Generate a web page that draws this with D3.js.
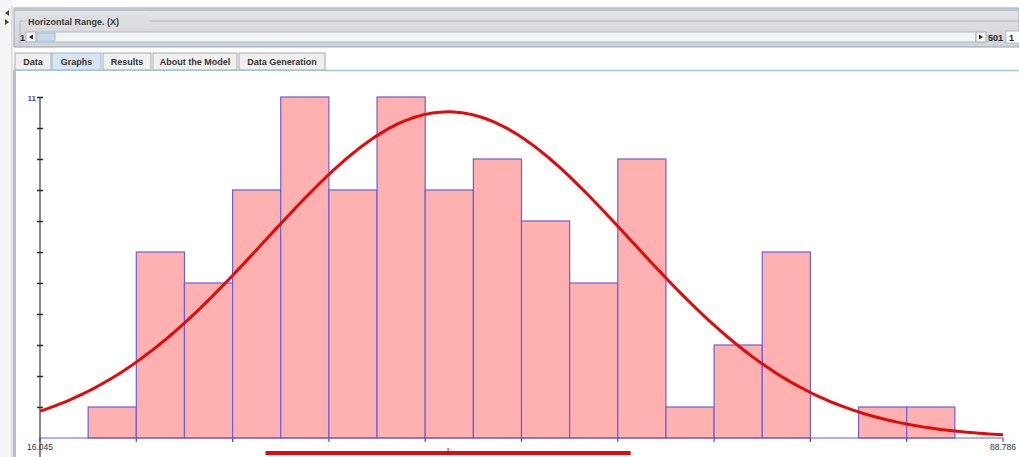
<!DOCTYPE html>
<html>
<head>
<meta charset="utf-8">
<script src="https://cdn.jsdelivr.net/npm/d3@7"></script>
<style>
  body { margin: 0; background: #fff; }
  svg { display: block; font-family: "Liberation Sans", Arial, sans-serif; }
</style>
</head>
<body>
<div id="chart"></div>
<script>
// histogram counts per bin (20 equal bins between xMin and xMax)
const counts = [0, 1, 6, 5, 8, 11, 8, 11, 8, 9, 7, 5, 9, 1, 3, 6, 0, 1, 1, 0];
const xMin = 16.045;
const xMax = 88.786;
const yMax = 11;
const n = 100;
const mean = 46.87;
const sd = 13.79;
const tabs = ["Data", "Graphs", "Results", "About the Model", "Data Generation"];
const selectedTab = "Graphs";
const rangeLabels = ["1", "501", "1"];

const W = 1019, H = 457;
const svg = d3.select("#chart").append("svg")
    .attr("width", W)
    .attr("height", H);

// ---- window chrome ----
const chrome = svg.append("g");

// left split strip
chrome.append("rect").attr("x", 0).attr("y", 0).attr("width", 12).attr("height", H).attr("fill", "#f4f5f7");
chrome.append("line").attr("x1", 12).attr("x2", 12).attr("y1", 6).attr("y2", H).attr("stroke", "#c4c8ce");
chrome.append("path").attr("d", "M9,10 L5,13 L9,16 Z").attr("fill", "#444");
chrome.append("path").attr("d", "M5,19 L9,22 L5,25 Z").attr("fill", "#444");

// top "Horizontal Range" panel
const grad = svg.append("defs").append("linearGradient")
    .attr("id", "panelGrad").attr("x1", 0).attr("x2", 0).attr("y1", 0).attr("y2", 1);
grad.append("stop").attr("offset", "0%").attr("stop-color", "#e4e6e9");
grad.append("stop").attr("offset", "100%").attr("stop-color", "#cfd2d6");

chrome.append("rect").attr("x", 14).attr("y", 8).attr("width", W - 14).attr("height", 39)
    .attr("fill", "url(#panelGrad)").attr("stroke", "#9ea6b0");
chrome.append("line").attr("x1", 14).attr("x2", W).attr("y1", 10).attr("y2", 10).attr("stroke", "#b9c3cf").attr("stroke-width", 2);
chrome.append("line").attr("x1", 20).attr("x2", W).attr("y1", 21).attr("y2", 21).attr("stroke", "#b0b4ba");
chrome.append("line").attr("x1", 20).attr("x2", 20).attr("y1", 21).attr("y2", 44).attr("stroke", "#b0b4ba");
chrome.append("rect").attr("x", 25).attr("y", 15).attr("width", 124).attr("height", 12).attr("fill", "#dcdee1");
chrome.append("text").attr("x", 28).attr("y", 25)
    .attr("font-size", 9).attr("font-weight", "bold").attr("fill", "#3a3a3a")
    .text("Horizontal Range. (X)");

// scrollbar row
chrome.append("text").attr("x", 20).attr("y", 40.5).attr("font-size", 9).attr("font-weight", "bold").attr("fill", "#222").text(rangeLabels[0]);
chrome.append("rect").attr("x", 26).attr("y", 32).attr("width", 10).attr("height", 10).attr("fill", "#f6f6f6").attr("stroke", "#a8aeb6");
chrome.append("path").attr("d", "M33,34.5 L29,37 L33,39.5 Z").attr("fill", "#222");
chrome.append("rect").attr("x", 36).attr("y", 32).attr("width", 940).attr("height", 10).attr("fill", "#f2f3f5").attr("stroke", "#b4bac2");
chrome.append("rect").attr("x", 37).attr("y", 33).attr("width", 18).attr("height", 8).attr("fill", "#c9d9ec").attr("stroke", "#a9bcd4");
chrome.append("rect").attr("x", 976).attr("y", 32).attr("width", 10).attr("height", 10).attr("fill", "#f6f6f6").attr("stroke", "#a8aeb6");
chrome.append("path").attr("d", "M979,34.5 L983,37 L979,39.5 Z").attr("fill", "#222");
chrome.append("text").attr("x", 988).attr("y", 40.5).attr("font-size", 9).attr("font-weight", "bold").attr("fill", "#222").text(rangeLabels[1]);
chrome.append("rect").attr("x", 1006).attr("y", 31).attr("width", 14).attr("height", 12).attr("fill", "#fff").attr("stroke", "#b4bac2");
chrome.append("text").attr("x", 1009).attr("y", 40.5).attr("font-size", 9).attr("font-weight", "bold").attr("fill", "#222").text(rangeLabels[2]);

// tabs
const tabX = [15, 52, 103, 153, 239];
const tabW = [36, 49, 48, 84, 86];
const tabG = chrome.append("g");
tabs.forEach((t, i) => {
    const sel = t === selectedTab;
    tabG.append("rect")
        .attr("x", tabX[i]).attr("y", 53).attr("width", tabW[i]).attr("height", 17)
        .attr("fill", sel ? "#d5e5f5" : "#f0f0f0")
        .attr("stroke", sel ? "#9fb4cc" : "#a7a9ac");
    tabG.append("text")
        .attr("x", tabX[i] + tabW[i] / 2).attr("y", 65)
        .attr("text-anchor", "middle")
        .attr("font-size", 9).attr("font-weight", "bold").attr("fill", "#333")
        .text(t);
});
chrome.append("line").attr("x1", 325).attr("x2", W).attr("y1", 70.5).attr("y2", 70.5).attr("stroke", "#a9c0da").attr("stroke-width", 1.5);
chrome.append("line").attr("x1", 14).attr("x2", 325).attr("y1", 70.5).attr("y2", 70.5).attr("stroke", "#a9c0da");
chrome.append("rect").attr("x", 13).attr("y", 70).attr("width", 3).attr("height", H - 70).attr("fill", "#b9bec5");

// ---- chart ----
const x = d3.scaleLinear().domain([xMin, xMax]).range([40, 1003]);
const y = d3.scaleLinear().domain([0, yMax]).range([438, 97]);
const binW = (xMax - xMin) / counts.length;

const bins = counts.map((c, i) => ({ x0: xMin + i * binW, x1: xMin + (i + 1) * binW, c: c }));

// bars
svg.append("g")
    .selectAll("rect")
    .data(bins.filter(d => d.c > 0))
    .join("rect")
    .attr("x", d => x(d.x0))
    .attr("y", d => y(d.c))
    .attr("width", d => x(d.x1) - x(d.x0))
    .attr("height", d => y(0) - y(d.c))
    .attr("fill", "#ffb1b1")
    .attr("stroke", "#6b5fd6")
    .attr("stroke-width", 1.2);

// x baseline with ticks every other bin edge
svg.append("line")
    .attr("x1", x(xMin)).attr("x2", x(xMax))
    .attr("y1", y(0)).attr("y2", y(0))
    .attr("stroke", "#6b5fd6").attr("stroke-width", 1.2);
const edgeTicks = d3.range(0, counts.length + 1, 2).map(i => xMin + i * binW);
svg.append("g")
    .selectAll("line")
    .data(edgeTicks)
    .join("line")
    .attr("x1", d => x(d)).attr("x2", d => x(d))
    .attr("y1", y(0)).attr("y2", y(0) + 4)
    .attr("stroke", "#5548b8").attr("stroke-width", 1.2);

// y axis
const yAxis = d3.axisLeft(y)
    .tickValues(d3.range(1, yMax + 1))
    .tickSize(0)
    .tickFormat("");
const yg = svg.append("g").attr("transform", `translate(${x(xMin)},0)`).call(yAxis);
yg.select(".domain").remove();
yg.append("line")
    .attr("x1", 0).attr("x2", 0).attr("y1", y(yMax)).attr("y2", H)
    .attr("stroke", "#3a3a3a").attr("stroke-width", 1.2);
yg.selectAll(".tick").append("line")
    .attr("x1", -3).attr("x2", 3)
    .attr("stroke", "#222").attr("stroke-width", 1.5);
yg.append("text")
    .attr("x", -4).attr("y", y(yMax) + 4)
    .attr("text-anchor", "end")
    .attr("font-size", 8).attr("font-weight", "bold").attr("fill", "#4848d8")
    .text(yMax);

// end labels
svg.append("text").attr("x", x(xMin)).attr("y", 450)
    .attr("text-anchor", "middle").attr("font-size", 8.5).attr("fill", "#333")
    .text(xMin.toFixed(3));
svg.append("text").attr("x", x(xMax)).attr("y", 450)
    .attr("text-anchor", "middle").attr("font-size", 8.5).attr("fill", "#333")
    .text(xMax.toFixed(3));

// fitted normal curve
const pdf = v => n * binW / (sd * Math.sqrt(2 * Math.PI)) * Math.exp(-0.5 * ((v - mean) / sd) ** 2);
const curvePts = d3.range(0, 201).map(i => xMin + i * (xMax - xMin) / 200);
svg.append("path")
    .datum(curvePts)
    .attr("fill", "none")
    .attr("stroke", "#e20a0a")
    .attr("stroke-width", 3)
    .attr("d", d3.line().x(d => x(d)).y(d => y(pdf(d))).curve(d3.curveBasis));

// mean +/- sd bar
svg.append("line")
    .attr("x1", x(mean - sd)).attr("x2", x(mean + sd))
    .attr("y1", 453).attr("y2", 453)
    .attr("stroke", "#e20a0a").attr("stroke-width", 4);
svg.append("line")
    .attr("x1", x(mean)).attr("x2", x(mean))
    .attr("y1", 448).attr("y2", 453)
    .attr("stroke", "#e20a0a").attr("stroke-width", 1);
</script>
</body>
</html>
